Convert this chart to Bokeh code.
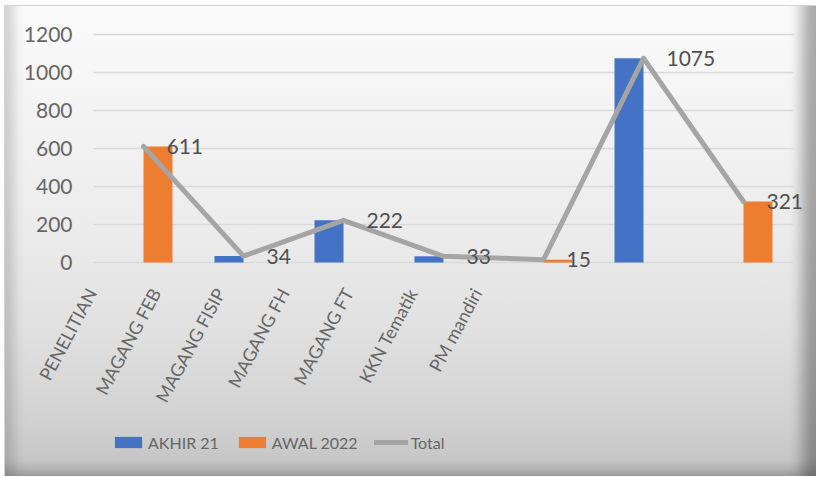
from bokeh.plotting import figure
from bokeh.models import (Range1d, Legend, LegendItem, ColumnDataSource)
from bokeh.transform import dodge
from bokeh.core.properties import value
from bokeh.embed import file_html
from bokeh.resources import INLINE

categories = ["PENELITIAN", "MAGANG FEB", "MAGANG FISIP", "MAGANG FH", "MAGANG FT", "KKN Tematik", "PM mandiri"]
akhir_21 = [0, 34, 222, 33, 0, 1075, 0]
awal_2022 = [611, 0, 0, 0, 15, 0, 321]
total = [611, 34, 222, 33, 15, 1075, 321]
y_ticks = [0, 200, 400, 600, 800, 1000, 1200]
series_names = ["AKHIR 21", "AWAL 2022", "Total"]
colors = ["#4472C4", "#ED7D31", "#A5A5A5"]

idx = list(range(len(categories)))
src = ColumnDataSource(dict(xi=idx, cat=categories, akhir=akhir_21, awal=awal_2022, total=total,
                            lbl=[str(v) for v in total], base=[0] * len(categories)))

band_left = idx[0] - 0.5
band_right = idx[-1] + 0.5
grid_src = ColumnDataSource(dict(y=y_ticks, x0=[band_left] * len(y_ticks), x1=[band_right] * len(y_ticks),
                                 t=[str(t) for t in y_ticks]))

# the frame covers the whole chart so that no text is clipped
p = figure(width=816, height=476,
           x_range=Range1d(-1.43, 6.73),
           y_range=Range1d(-1126, 1379),
           output_backend="svg", toolbar_location=None,
           x_axis_location=None, y_axis_location=None,
           min_border_left=0, min_border_right=0, min_border_top=0, min_border_bottom=0)

p.background_fill_color = None
p.border_fill_color = None
p.outline_line_color = None
for g in p.grid:
    g.visible = False
p.styles = {
    "background": ("linear-gradient(to bottom, #fbfbfb 0%, #f3f3f3 25%, #ebebeb 50%, "
                   "#e0e0e0 70%, #d2d2d2 88%, #c2c2c2 100%)"),
    "box-shadow": ("inset 4px 5px 0 0 #fdfdfd, inset 5px 6px 0 0 #d4d4d4, "
                   "inset 20px 0 12px -6px rgba(0,0,0,0.16), "
                   "inset -22px 0 14px -8px rgba(0,0,0,0.32), "
                   "inset 0 -16px 12px -8px rgba(0,0,0,0.16)"),
}

# value gridlines and tick labels
p.segment(x0="x0", x1="x1", y0="y", y1="y", source=grid_src, line_color="#d9d9d9", line_width=1.5)
p.text(x="x0", y="y", text="t", source=grid_src, x_offset=-21, text_align="right",
       text_baseline="middle", text_font=value("Lato"), text_font_size="21px", text_color="#666666")

r1 = p.vbar(x=dodge("xi", -0.145), top="akhir", width=0.29, source=src,
            fill_color=colors[0], line_color=None)
r2 = p.vbar(x=dodge("xi", 0.145), top="awal", width=0.29, source=src,
            fill_color=colors[1], line_color=None)
r3 = p.line(x="xi", y="total", source=src, line_color=colors[2], line_width=5,
            line_join="round", line_cap="round")
p.text(x="xi", y="total", text="lbl", source=src, x_offset=23, text_baseline="middle",
       text_align="left", text_font=value("Lato"), text_font_size="21px", text_color="#505050")

# category labels (slanted, compressed spacing like the reference)
p.extra_x_ranges = {"lab": Range1d(-1.417, 11.293)}
p.text(x="xi", y="base", text="cat", source=src, x_range_name="lab", y_offset=27, angle=1.08,
       text_align="right", text_baseline="middle", text_font=value("Lato"),
       text_font_size="18px", text_color="#666666")

legend = Legend(items=[LegendItem(label=series_names[0], renderers=[r1]),
                       LegendItem(label=series_names[1], renderers=[r2]),
                       LegendItem(label=series_names[2], renderers=[r3])],
                location=(111, 24), orientation="horizontal",
                glyph_width=34, glyph_height=14, label_standoff=3, spacing=16,
                padding=0, margin=0, border_line_color=None, background_fill_alpha=0,
                label_text_font="Lato", label_text_font_size="16px", label_text_color="#666666",
                label_height=20)
p.add_layout(legend, "center")

open("out.html", "w").write(file_html(p, INLINE))
